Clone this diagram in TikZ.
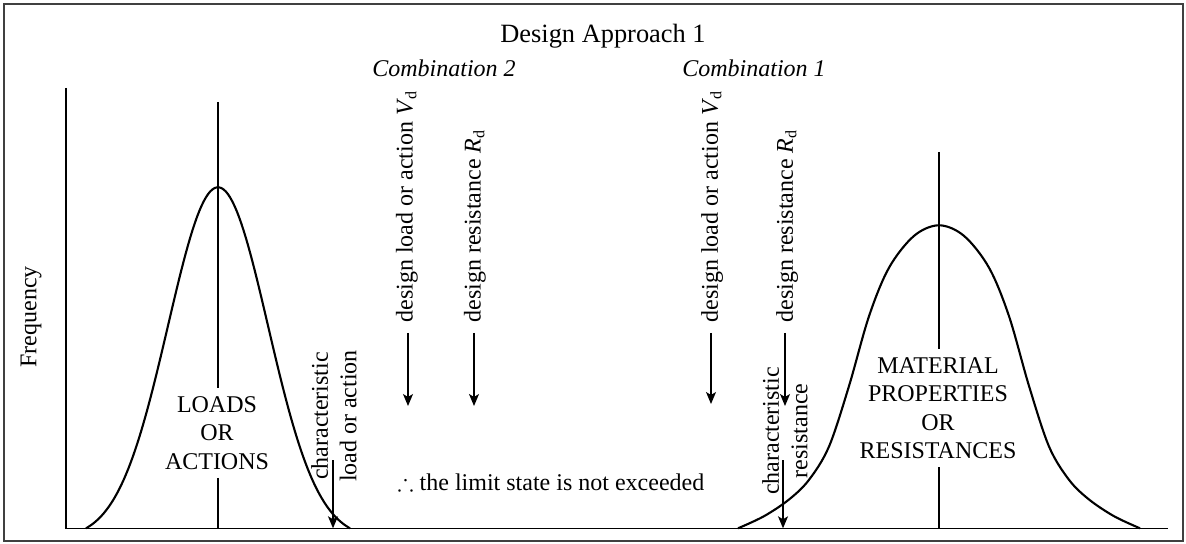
\documentclass[tikz,border=0pt]{standalone}
\usepackage{fontspec}
\setmainfont{Liberation Serif}
\usepackage{amssymb}
\usetikzlibrary{arrows.meta}
\begin{document}
\begin{tikzpicture}[x=0.5pt,y=-0.5pt,
  lbl/.style={font=\fontsize{12}{14.25}\selectfont, text=black, inner sep=0pt},
  vtext/.style={lbl, rotate=90, anchor=west},
  distlabel/.style={lbl, align=center, inner sep=4pt},
  curve/.style={line width=1.05pt, line join=round},
  axisline/.style={line width=0.8pt},
  cline/.style={line width=0.6pt},
  arr/.style={line width=0.6pt, -{Stealth[length=6pt,width=5pt,inset=1.5pt]}},
  frame/.style={line width=0.7pt, draw=black!75}]
\useasboundingbox (0,0) rectangle (1186,544);
\draw[frame] (4,4) rectangle (1183,541);

% axes
\coordinate (axtop) at (66,88);
\coordinate (orig) at (66,528.3);
\coordinate (axend) at (1168,528.3);
\draw[axisline] (axtop) -- (orig) -- (axend);
\node[lbl, rotate=90] (freq) at (31,317) {Frequency};

% titles
\node[lbl, anchor=base, font=\fontsize{13.2}{15}\selectfont] (title) at (603,43) {Design Approach 1};
\node[lbl, anchor=base] (comb2) at (444,77) {\itshape Combination 2};
\node[lbl, anchor=base] (comb1) at (754,77) {\itshape Combination 1};

% left distribution
\draw[curve] plot[domain=-132:132, samples=120]
  ({218+\x}, {528.3 - 341*(exp(-0.5*(\x/50)^2) - 0.0307)/(1-0.0307)});
\node[distlabel] (loads) at (217,433) {LOADS\\OR\\ACTIONS};
\coordinate (ltop) at (218,102);
\draw[cline] (ltop) -- (ltop |- loads.north);
\draw[cline] (ltop |- loads.south) -- (ltop |- orig);

% right distribution
\draw[curve] plot[smooth, tension=0.55] coordinates {
  (738,528.3) (764,516.2) (789,499.5) (809,479.8) (829,446.5) (849,386)
  (869,316.2) (889,267.7) (914,235.9) (939,225.3) (964,235.9) (989,267.7)
  (1009,316.2) (1029,386) (1049,446.5) (1069,479.8) (1089,499.5)
  (1114,516.2) (1140,528.3)};
\node[distlabel] (mat) at (938,408) {MATERIAL\\PROPERTIES\\OR\\RESISTANCES};
\coordinate (rtop) at (939,152);
\draw[cline] (rtop) -- (rtop |- mat.north);
\draw[cline] (rtop |- mat.south) -- (rtop |- orig);

% characteristic values
\node[lbl, rotate=90, align=center] (charL) at (334,416) {characteristic\\load or action};
\node[lbl, rotate=90, align=center] (charR) at (785,431) {characteristic\\resistance};
\coordinate (cLs) at (333,460);
\coordinate (cRs) at (783,460);
\draw[arr] (cLs) -- (cLs |- orig);
\draw[arr] (cRs) -- (cRs |- orig);

% design values, Combination 2
\node[vtext] (v2) at (407,323) {design load or action \textit{V}\textsubscript{d}};
\node[vtext] (r2) at (475,323) {design resistance \textit{R}\textsubscript{d}};
% design values, Combination 1
\node[vtext] (v1) at (712,323) {design load or action \textit{V}\textsubscript{d}};
\node[vtext] (r1) at (787,323) {design resistance \textit{R}\textsubscript{d}};

\coordinate (a1s) at (408,333); \coordinate (a1e) at (408,406);
\coordinate (a2s) at (474,333); \coordinate (a2e) at (474,406);
\coordinate (a3s) at (711,333); \coordinate (a3e) at (711,404);
\coordinate (a4s) at (785,333); \coordinate (a4e) at (785,406);
\draw[arr] (a1s) -- (a1e);
\draw[arr] (a2s) -- (a2e);
\draw[arr] (a3s) -- (a3e);
\draw[arr] (a4s) -- (a4e);

\node[lbl, anchor=base] (concl) at (551,490) {$\therefore$ the limit state is not exceeded};
\end{tikzpicture}
\end{document}
